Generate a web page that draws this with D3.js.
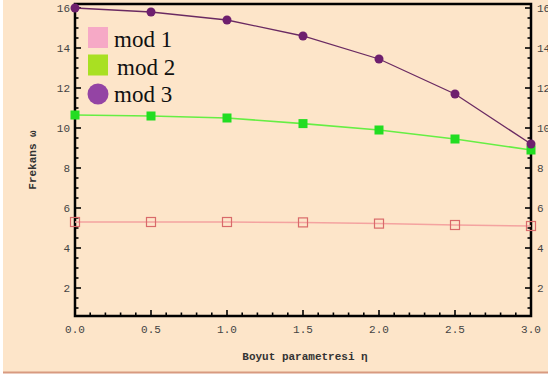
<!DOCTYPE html>
<html>
<head>
<style>
  body { margin: 0; background: #fff; }
  text { font-family: "Liberation Mono", "DejaVu Sans Mono", monospace; }
</style>
</head>
<body>
<svg id="chart" width="548" height="381"></svg>
<script src="https://d3js.org/d3.v7.min.js"></script>
<script>

var etas = [0, 0.5, 1.0, 1.5, 2.0, 2.5, 3.0];
var mod1 = [5.3, 5.3, 5.3, 5.28, 5.22, 5.15, 5.1];
var mod2 = [10.65, 10.6, 10.5, 10.22, 9.9, 9.45, 8.9];
var mod3 = [16.0, 15.8, 15.4, 14.6, 13.45, 11.7, 9.2];
var yTicks = [2, 4, 6, 8, 10, 12, 14, 16];
var xTicks = [0, 0.5, 1.0, 1.5, 2.0, 2.5, 3.0];
var legendNames = ["mod 1", "mod 2", "mod 3"];

var svg = d3.select("#chart");
var margin = {left: 75, right: 17, top: 4, bottom: 65};
var W = 548, H = 381;

// peach background
svg.append("rect").attr("x", 3).attr("y", 0).attr("width", W - 3).attr("height", 372)
  .attr("fill", "#fde5c9");
svg.append("line").attr("x1", 3).attr("x2", W).attr("y1", 372.5).attr("y2", 372.5)
  .attr("stroke", "#d89a80").attr("stroke-width", 2);

var x = d3.scaleLinear().domain([0, 3]).range([margin.left, W - margin.right]);
var y = d3.scaleLinear().domain([0.6, 16.2]).range([316, margin.top]);

var g = svg.append("g");

// ticks (inside the frame)
var minorY = d3.range(1, 16.01, 0.5);
var minorX = d3.range(0, 3.001, 0.1);
g.selectAll(".ty").data(minorY).enter().append("line")
  .attr("x1", x(0)).attr("x2", function(d) { return x(0) + (d % 2 === 0 ? 6 : 3.5); })
  .attr("y1", function(d) { return y(d); }).attr("y2", function(d) { return y(d); })
  .attr("stroke", "#000").attr("stroke-width", 1.6);
g.selectAll(".tyr").data(minorY).enter().append("line")
  .attr("x1", x(3)).attr("x2", function(d) { return x(3) - (d % 2 === 0 ? 6 : 3.5); })
  .attr("y1", function(d) { return y(d); }).attr("y2", function(d) { return y(d); })
  .attr("stroke", "#000").attr("stroke-width", 1.6);
g.selectAll(".tx").data(minorX).enter().append("line")
  .attr("x1", function(d) { return x(d); }).attr("x2", function(d) { return x(d); })
  .attr("y1", y(0.6)).attr("y2", function(d) {
    var major = Math.abs(d * 2 - Math.round(d * 2)) < 1e-6;
    return y(0.6) - (major ? 6 : 3.5);
  })
  .attr("stroke", "#000").attr("stroke-width", 1.6);

// frame
g.append("rect").attr("x", x(0)).attr("y", y(16.2)).attr("width", x(3) - x(0)).attr("height", y(0.6) - y(16.2))
  .attr("fill", "none").attr("stroke", "#000").attr("stroke-width", 2.5);

// tick labels
g.selectAll(".ly").data(yTicks).enter().append("text")
  .attr("x", x(0) - 5).attr("y", function(d) { return y(d); }).attr("dy", "0.35em")
  .attr("text-anchor", "end").attr("font-size", 11).attr("fill", "#444")
  .text(function(d) { return d; });
g.selectAll(".lyr").data(yTicks).enter().append("text")
  .attr("x", x(3) + 6).attr("y", function(d) { return y(d); }).attr("dy", "0.35em")
  .attr("text-anchor", "start").attr("font-size", 11).attr("fill", "#444")
  .text(function(d) { return d; });
g.selectAll(".lx").data(xTicks).enter().append("text")
  .attr("x", function(d) { return x(d); }).attr("y", 333)
  .attr("text-anchor", "middle").attr("font-size", 11).attr("fill", "#444")
  .text(function(d) { return d.toFixed(1); });

// axis titles
g.append("text").attr("x", 305).attr("y", 360).attr("text-anchor", "middle")
  .attr("font-size", 11).attr("font-weight", "bold").attr("fill", "#333")
  .text("Boyut parametresi η");
g.append("text").attr("transform", "translate(36,160) rotate(-90)").attr("text-anchor", "middle")
  .attr("font-size", 11).attr("font-weight", "bold").attr("fill", "#333")
  .text("Frekans ω");

var line = d3.line().x(function(d) { return x(d[0]); }).y(function(d) { return y(d[1]); });
function pts(vals) { return etas.map(function(e, i) { return [e, vals[i]]; }); }

// mod 1
g.append("path").datum(pts(mod1)).attr("d", line).attr("fill", "none")
  .attr("stroke", "#f4a3a0").attr("stroke-width", 1.5);
g.selectAll(".m1").data(pts(mod1)).enter().append("rect")
  .attr("x", function(d) { return x(d[0]) - 4.5; }).attr("y", function(d) { return y(d[1]) - 4.5; })
  .attr("width", 9).attr("height", 9).attr("fill", "none")
  .attr("stroke", "#d96a6a").attr("stroke-width", 1.2);

// mod 2
g.append("path").datum(pts(mod2)).attr("d", line).attr("fill", "none")
  .attr("stroke", "#66ee44").attr("stroke-width", 1.6);
g.selectAll(".m2").data(pts(mod2)).enter().append("rect")
  .attr("x", function(d) { return x(d[0]) - 4.5; }).attr("y", function(d) { return y(d[1]) - 4.5; })
  .attr("width", 9).attr("height", 9).attr("fill", "#22dd22");

// mod 3
g.append("path").datum(pts(mod3)).attr("d", line).attr("fill", "none")
  .attr("stroke", "#6a2a62").attr("stroke-width", 1.3);
g.selectAll(".m3").data(pts(mod3)).enter().append("circle")
  .attr("cx", function(d) { return x(d[0]); }).attr("cy", function(d) { return y(d[1]); })
  .attr("r", 4.5).attr("fill", "#6e1f6e");

// legend
var legColors = ["#f6a9c6", "#a9e022", "#9444a4"];
var lg = g.append("g").attr("transform", "translate(88,27)");
legendNames.forEach(function(name, i) {
  var yy = i * 27.5;
  if (i < 2) {
    lg.append("rect").attr("x", 0).attr("y", yy).attr("width", 20).attr("height", 21)
      .attr("fill", legColors[i]);
  } else {
    lg.append("circle").attr("cx", 10).attr("cy", yy + 12).attr("r", 10.5)
      .attr("fill", legColors[i]);
  }
  lg.append("text").attr("x", 26 + (i === 1 ? 3 : 0)).attr("y", yy + 20)
    .style("font-family", "'Liberation Serif', 'DejaVu Serif', serif")
    .attr("font-size", 23).attr("fill", "#111").text(name);
});

</script>
</body>
</html>
